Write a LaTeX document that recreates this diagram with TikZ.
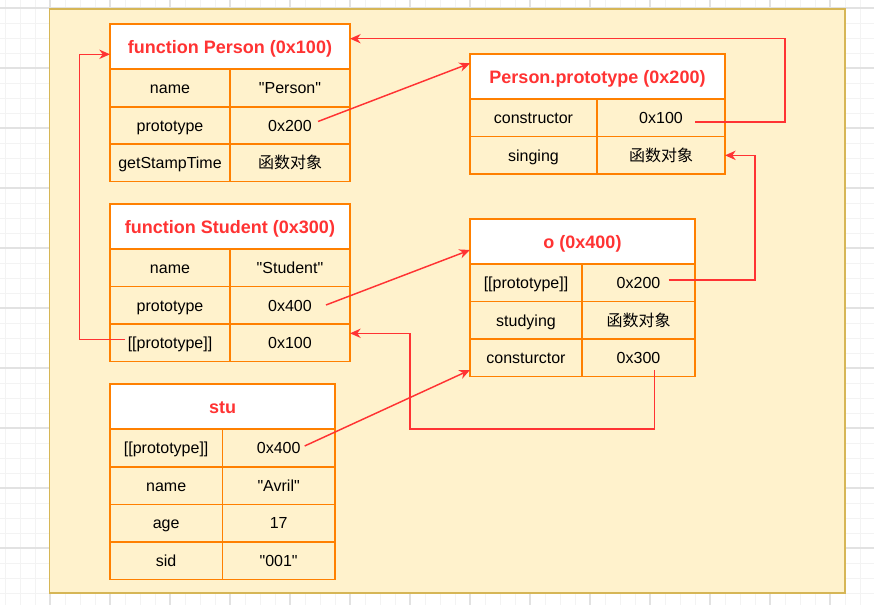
\documentclass[tikz,border=0pt]{standalone}
\usepackage{fontspec}
\setmainfont{Liberation Sans}[Ligatures=TeXOff]
\newfontfamily\cjk{Noto Sans CJK SC}
\usetikzlibrary{arrows.meta}

\definecolor{canvas}{HTML}{FFF2CC}
\definecolor{canvasedge}{HTML}{D6B656}
\definecolor{tbl}{HTML}{FF8000}
\definecolor{refred}{HTML}{FF3333}
\definecolor{gridminor}{HTML}{F3F3F3}
\definecolor{gridmajor}{HTML}{E2E2E2}

% one table cell: style, name, left, top, right, bottom, text (pixel units)
\newcommand{\tcell}[7]{%
  \node[#1, anchor=north west,
        minimum width={(#5-#3)*0.75pt},
        minimum height={(#6-#4)*0.75pt}] (#2) at (#3,#4) {#7};}

\begin{document}
\begin{tikzpicture}[x=0.75pt,y=-0.75pt,
  cellbase/.style={draw=tbl, line width=1.2pt, inner sep=0pt, outer sep=0pt},
  cell/.style={cellbase, fill=canvas, text=black,
               font=\fontsize{12}{14}\selectfont,
               text height=9.6pt, text depth=1pt},
  hdr/.style={cellbase, fill=white, text=refred,
              font=\fontsize{13.5}{16}\selectfont\bfseries,
              text height=12pt, text depth=1pt},
  conn/.style={draw=refred, line width=1.1pt,
               -{Stealth[length=8pt,width=7pt,inset=2.5pt]}},
  minorline/.style={draw=gridminor, line width=0.6pt},
  majorline/.style={draw=gridmajor, line width=0.8pt}]

\useasboundingbox (0,0) rectangle (874,605);
\fill[white] (0,0) rectangle (874,605);

% page grid
\foreach \gx in {5,20,...,870} \draw[minorline] (\gx,0) -- (\gx,605);
\foreach \gy in {8,23,...,605} \draw[minorline] (0,\gy) -- (874,\gy);
\foreach \gx in {50,110,...,870} \draw[majorline] (\gx,0) -- (\gx,605);
\foreach \gy in {8,68,...,605} \draw[majorline] (0,\gy) -- (874,\gy);

% container
\draw[fill=canvas, draw=canvasedge, line width=1.2pt] (49.3,9) rectangle (845,593);

% function Person (0x100)
\tcell{cell}{pk1}{110}{69}{230}{107}{name}
\tcell{cell}{pv1}{230}{69}{350}{107}{"Person"}
\tcell{cell}{pk2}{110}{107}{230}{144}{prototype}
\tcell{cell}{pv2}{230}{107}{350}{144}{0x200}
\tcell{cell}{pk3}{110}{144}{230}{181.5}{getStampTime}
\tcell{cell}{pv3}{230}{144}{350}{181.5}{\cjk 函数对象}
\tcell{hdr}{pH}{110}{24}{350}{69}{function Person (0x100)}

% Person.prototype (0x200)
\tcell{cell}{ppk1}{470}{99}{597}{136.7}{constructor}
\tcell{cell}{ppv1}{597}{99}{725}{136.7}{0x100}
\tcell{cell}{ppk2}{470}{136.7}{597}{174}{singing}
\tcell{cell}{ppv2}{597}{136.7}{725}{174}{\cjk 函数对象}
\tcell{hdr}{ppH}{470}{54}{725}{99}{Person.prototype (0x200)}

% function Student (0x300)
\tcell{cell}{sk1}{110}{249}{230}{286.7}{name}
\tcell{cell}{sv1}{230}{249}{350}{286.7}{"Student"}
\tcell{cell}{sk2}{110}{286.7}{230}{324.3}{prototype}
\tcell{cell}{sv2}{230}{286.7}{350}{324.3}{0x400}
\tcell{cell}{sk3}{110}{324.3}{230}{361.7}{[[prototype]]}
\tcell{cell}{sv3}{230}{324.3}{350}{361.7}{0x100}
\tcell{hdr}{sH}{110}{204}{350}{249}{function Student (0x300)}

% o (0x400)
\tcell{cell}{ok1}{470}{264}{582}{301.7}{[[prototype]]}
\tcell{cell}{ov1}{582}{264}{695}{301.7}{0x200}
\tcell{cell}{ok2}{470}{301.7}{582}{339.3}{studying}
\tcell{cell}{ov2}{582}{301.7}{695}{339.3}{\cjk 函数对象}
\tcell{cell}{ok3}{470}{339.3}{582}{376.7}{consturctor}
\tcell{cell}{ov3}{582}{339.3}{695}{376.7}{0x300}
\tcell{hdr}{oH}{470}{219.3}{695}{264}{o (0x400)}

% stu
\tcell{cell}{tk1}{110}{429.3}{222.3}{466.7}{[[prototype]]}
\tcell{cell}{tv1}{222.3}{429.3}{335}{466.7}{0x400}
\tcell{cell}{tk2}{110}{466.7}{222.3}{504.3}{name}
\tcell{cell}{tv2}{222.3}{466.7}{335}{504.3}{"Avril"}
\tcell{cell}{tk3}{110}{504.3}{222.3}{541.7}{age}
\tcell{cell}{tv3}{222.3}{504.3}{335}{541.7}{17}
\tcell{cell}{tk4}{110}{541.7}{222.3}{579.3}{sid}
\tcell{cell}{tv4}{222.3}{541.7}{335}{579.3}{"001"}
\tcell{hdr}{tH}{110}{384}{335}{429.3}{stu}

% references
\draw[conn] ([shift={(28,-4)}]pv2.center) -- ([shift={(0,9.3)}]ppH.north west);
\draw[conn] ([shift={(34,4)}]ppv1.center) -- ++(90,0) |- ([shift={(0,-7.8)}]pH.east);
\draw[conn] ([shift={(-45,-3.7)}]sk3.center) -- ++(-45.7,0) |- ([shift={(0,30.3)}]pH.north west);
\draw[conn] ([shift={(36,-0.5)}]sv2.center) -- ([shift={(0,30.7)}]oH.north west);
\draw[conn] ([shift={(30,-3)}]ov1.center) -- ++(86.7,0) |- (ppv2.east);
\draw[conn] ([shift={(16,12)}]ov3.center) -- ++(0,59) -- ++(-244.3,0) |- ([shift={(0,-9.7)}]sv3.east);
\draw[conn] ([shift={(26,-2)}]tv1.center) -- ([shift={(0,12)}]ok3.west);

\end{tikzpicture}
\end{document}
